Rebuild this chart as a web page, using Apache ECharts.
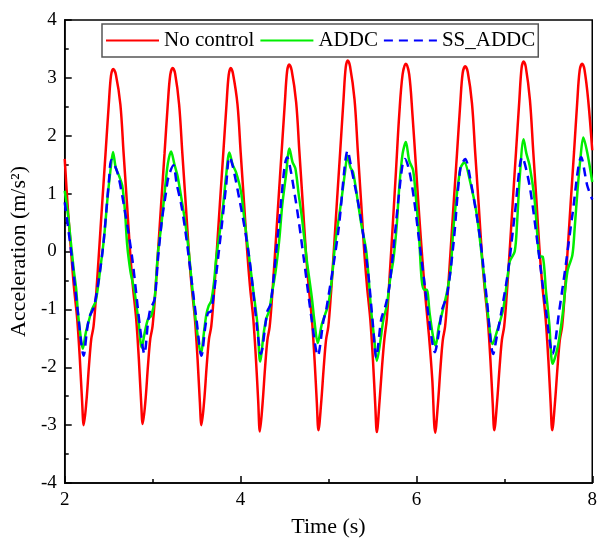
<!DOCTYPE html>
<html>
<head>
<meta charset="utf-8">
<script src="https://cdn.jsdelivr.net/npm/echarts@6/dist/echarts.min.js"></script>
<style>
html,body{margin:0;padding:0;background:#fff;}
#chart{width:600px;height:543px;}
</style>
</head>
<body>
<div id="chart"></div>
<script>
// Tick settings
const xTicks = [2, 4, 6, 8];
const yTicks = [-4, -3, -2, -1, 0, 1, 2, 3, 4];
const seriesNames = ['No control', 'ADDC', 'SS_ADDC'];

// No control (red) [time s, acceleration m/s^2]
const noControl = [
  [2.0,1.6],[2.035,0.75],[2.074,-0.03],[2.104,-0.6],[2.142,-1.17],[2.172,-1.86],[2.198,-2.6],[2.216,-3.0],
  [2.246,-2.6],[2.276,-1.97],[2.302,-1.51],[2.328,-1.29],[2.359,-0.71],[2.389,-0.03],[2.426,0.83],[2.464,1.69],[2.501,2.54],[2.526,3.035],[2.551,3.155],
  [2.582,3.055],[2.633,2.54],[2.670,1.69],[2.708,0.83],[2.745,-0.03],[2.775,-0.6],[2.813,-1.17],[2.843,-1.86],[2.869,-2.6],[2.887,-2.98],
  [2.917,-2.6],[2.947,-1.97],[2.973,-1.51],[2.999,-1.29],[3.030,-0.71],[3.060,-0.03],[3.097,0.83],[3.135,1.69],[3.172,2.54],[3.200,3.05],[3.228,3.17],
  [3.256,3.07],[3.301,2.54],[3.338,1.69],[3.376,0.83],[3.413,-0.03],[3.443,-0.6],[3.481,-1.17],[3.511,-1.86],[3.537,-2.6],[3.555,-3.0],
  [3.585,-2.6],[3.615,-1.97],[3.641,-1.51],[3.667,-1.29],[3.698,-0.71],[3.728,-0.03],[3.765,0.83],[3.803,1.69],[3.840,2.54],[3.865,3.05],[3.889,3.17],
  [3.914,3.07],[3.965,2.54],[4.002,1.69],[4.040,0.83],[4.077,-0.03],[4.107,-0.6],[4.145,-1.17],[4.175,-1.86],[4.201,-2.6],[4.219,-3.11],
  [4.249,-2.65],[4.279,-2.0],[4.305,-1.53],[4.331,-1.3],[4.362,-0.71],[4.392,-0.03],[4.429,0.84],[4.467,1.72],[4.504,2.58],[4.529,3.11],[4.552,3.23],
  [4.581,3.13],[4.632,2.58],[4.669,1.72],[4.707,0.84],[4.744,-0.03],[4.774,-0.6],[4.812,-1.18],[4.842,-1.88],[4.868,-2.63],[4.886,-3.09],
  [4.916,-2.63],[4.946,-2.0],[4.972,-1.53],[4.998,-1.3],[5.029,-0.71],[5.059,-0.03],[5.096,0.86],[5.134,1.75],[5.171,2.63],[5.196,3.18],[5.219,3.30],
  [5.245,3.2],[5.296,2.63],[5.333,1.75],[5.371,0.86],[5.408,-0.03],[5.438,-0.6],[5.476,-1.18],[5.506,-1.88],[5.532,-2.65],[5.550,-3.12],
  [5.580,-2.6],[5.610,-1.97],[5.636,-1.51],[5.663,-1.17],[5.693,-0.49],[5.730,0.43],[5.768,1.4],[5.805,2.37],[5.843,3.06],[5.880,3.245],
  [5.918,3.06],[5.955,2.37],[5.993,1.51],[6.030,0.66],[6.068,-0.14],[6.105,-0.83],[6.143,-1.46],[6.180,-2.2],[6.214,-3.13],
  [6.244,-2.65],[6.274,-2.0],[6.300,-1.53],[6.326,-1.3],[6.357,-0.71],[6.387,-0.03],[6.424,0.84],[6.462,1.7],[6.499,2.56],[6.526,3.08],[6.555,3.20],
  [6.584,3.1],[6.632,2.56],[6.669,1.7],[6.707,0.84],[6.744,-0.03],[6.774,-0.6],[6.812,-1.18],[6.842,-1.88],[6.868,-2.63],[6.886,-3.09],
  [6.916,-2.63],[6.946,-2.0],[6.972,-1.53],[6.998,-1.3],[7.029,-0.71],[7.059,-0.03],[7.096,0.86],[7.134,1.75],[7.171,2.62],[7.196,3.17],[7.219,3.285],
  [7.244,3.19],[7.291,2.62],[7.328,1.75],[7.366,0.86],[7.403,-0.03],[7.433,-0.6],[7.471,-1.18],[7.501,-1.88],[7.527,-2.63],[7.545,-3.09],
  [7.575,-2.63],[7.605,-2.0],[7.631,-1.53],[7.657,-1.3],[7.688,-0.71],[7.718,-0.03],[7.755,0.85],[7.793,1.72],[7.830,2.6],[7.857,3.13],[7.885,3.245],
  [7.912,3.14],[7.955,2.6],[8.0,1.75]
];

// ADDC (green)
const addc = [
  [2.0,1.05],[2.04,0.6],[2.073,0.11],[2.105,-0.35],[2.129,-0.63],[2.149,-1.03],[2.175,-1.4],[2.205,-1.68],[2.24,-1.4],[2.279,-1.17],[2.31,-1.0],[2.354,-0.85],
  [2.41,-0.23],[2.448,0.25],[2.486,0.91],[2.52,1.4],[2.549,1.72],[2.58,1.45],[2.617,1.31],[2.654,1.14],[2.685,0.7],[2.711,0.1],[2.748,-0.35],[2.775,-0.55],
  [2.80,-0.75],[2.842,-1.25],[2.875,-1.66],[2.91,-1.4],[2.947,-1.17],[2.985,-1.11],[3.022,-0.83],[3.06,-0.03],[3.097,0.43],[3.135,1.0],[3.172,1.51],[3.21,1.73],
  [3.247,1.51],[3.285,1.29],[3.33,0.89],[3.367,0.54],[3.405,0.09],[3.442,-0.49],[3.48,-1.06],[3.517,-1.51],[3.547,-1.77],[3.592,-1.29],[3.611,-1.09],[3.637,-0.94],
  [3.667,-0.85],[3.70,-0.5],[3.723,-0.11],[3.76,0.3],[3.798,0.74],[3.835,1.3],[3.873,1.71],[3.91,1.5],[3.948,1.37],[4.005,1.03],[4.04,0.6],[4.08,0.11],
  [4.136,-0.57],[4.192,-1.26],[4.222,-1.9],[4.267,-1.37],[4.295,-1.15],[4.324,-1.03],[4.36,-0.7],[4.399,-0.34],[4.44,0.2],[4.474,0.8],[4.515,1.3],[4.556,1.78],
  [4.59,1.55],[4.624,1.43],[4.66,1.0],[4.699,0.57],[4.755,-0.17],[4.811,-0.8],[4.84,-1.2],[4.878,-1.58],[4.924,-1.26],[4.961,-1.09],[4.999,-0.91],[5.04,-0.45],
  [5.074,0.11],[5.11,0.5],[5.149,0.91],[5.19,1.4],[5.216,1.66],[5.25,1.45],[5.28,1.37],[5.33,0.9],[5.374,0.46],[5.43,0.0],[5.486,-1.03],[5.52,-1.5],
  [5.55,-1.89],[5.588,-1.57],[5.625,-1.17],[5.663,-0.94],[5.70,-0.49],[5.738,-0.14],[5.775,0.43],[5.805,1.11],[5.843,1.69],[5.88,1.89],[5.918,1.57],[5.963,1.4],
  [6.0,0.83],[6.03,0.26],[6.06,-0.49],[6.087,-0.66],[6.117,-0.66],[6.15,-1.06],[6.188,-1.46],[6.218,-1.63],[6.255,-1.29],[6.293,-1.06],[6.349,-0.69],[6.39,-0.3],
  [6.424,0.46],[6.499,1.43],[6.544,1.54],[6.612,1.2],[6.687,0.63],[6.762,-0.34],[6.818,-1.14],[6.867,-1.6],[6.912,-1.4],[6.987,-1.0],[7.04,-0.4],[7.062,-0.17],
  [7.118,0.0],[7.145,0.5],[7.174,1.26],[7.219,1.94],[7.25,1.7],[7.287,1.49],[7.343,0.91],[7.38,0.2],[7.40,-0.08],[7.437,-0.09],[7.474,-0.69],[7.512,-1.26],
  [7.549,-1.94],[7.606,-1.66],[7.662,-1.1],[7.718,-0.34],[7.774,-0.06],[7.80,0.4],[7.831,1.03],[7.865,1.6],[7.898,1.97],[7.943,1.71],[8.0,1.2]
];

// SS_ADDC (blue dashed)
const ssAddc = [
  [2.0,0.85],[2.073,0.0],[2.148,-1.03],[2.216,-1.8],[2.25,-1.4],[2.279,-1.14],[2.336,-0.94],[2.43,0.0],[2.505,1.26],[2.531,1.58],[2.598,1.37],[2.673,0.8],
  [2.767,-0.11],[2.861,-1.37],[2.906,-1.77],[2.947,-1.23],[2.973,-1.0],[3.022,-0.83],[3.06,-0.14],[3.105,0.54],[3.15,1.0],[3.18,1.29],[3.236,1.49],[3.273,1.17],
  [3.33,0.77],[3.386,0.2],[3.442,-0.49],[3.498,-1.17],[3.555,-1.8],[3.6,-1.29],[3.63,-1.06],[3.667,-1.03],[3.761,0.11],[3.836,1.14],[3.873,1.63],[3.986,0.91],
  [4.099,-0.11],[4.192,-1.37],[4.23,-1.77],[4.305,-1.03],[4.342,-0.91],[4.436,0.46],[4.53,1.63],[4.624,0.91],[4.718,-0.11],[4.811,-1.2],[4.879,-1.8],[4.942,-1.2],
  [4.975,-1.0],[5.111,0.34],[5.186,1.49],[5.216,1.74],[5.261,1.43],[5.355,0.69],[5.449,-0.34],[5.505,-1.26],[5.543,-1.83],[5.6,-1.17],[5.648,-0.94],[5.693,-0.6],
  [5.749,0.2],[5.798,0.94],[5.843,1.51],[5.869,1.6],[5.918,1.4],[5.974,0.89],[6.03,0.2],[6.087,-0.49],[6.143,-1.17],[6.21,-1.74],[6.255,-1.4],[6.293,-1.0],
  [6.349,-0.75],[6.424,0.17],[6.499,1.43],[6.555,1.6],[6.612,1.26],[6.724,0.23],[6.799,-0.8],[6.874,-1.77],[6.912,-1.49],[6.968,-1.03],[7.043,-0.34],[7.118,0.63],
  [7.204,1.63],[7.287,1.14],[7.38,0.11],[7.474,-1.03],[7.549,-1.77],[7.624,-1.03],[7.699,-0.23],[7.774,0.63],[7.875,1.63],[7.943,1.14],[8.0,0.9]
];

const FONT = 'Liberation Serif';
const chart = echarts.init(document.getElementById('chart'), null, {renderer: 'canvas'});
chart.setOption({
  animation: false,
  backgroundColor: '#fff',
  grid: {left: 63.5, right: 3, top: 20, bottom: 56, show: true, borderColor: '#000', borderWidth: 1.5, backgroundColor: 'transparent'},
  legend: {
    left: 102, top: 24,
    orient: 'horizontal',
    itemWidth: 53, itemHeight: 14, itemGap: 5,
    padding: [6, 3, 6, 3],
    borderColor: '#555', borderWidth: 1.5,
    itemStyle: {opacity: 0},
    textStyle: {fontFamily: FONT, fontSize: 21, color: '#000'},
    data: seriesNames.map(n => ({name: n}))
  },
  xAxis: {
    type: 'value', min: xTicks[0], max: xTicks[xTicks.length - 1], interval: 2,
    name: 'Time (s)', nameLocation: 'middle', nameGap: 33,
    nameTextStyle: {fontFamily: FONT, fontSize: 22, color: '#000'},
    axisLine: {show: true, onZero: false, lineStyle: {color: '#000', width: 1.5}},
    axisTick: {show: true, inside: true, length: 7, lineStyle: {color: '#000', width: 1.5}},
    minorTick: {show: true, splitNumber: 2, length: 4, lineStyle: {color: '#000', width: 1.5}},
    axisLabel: {fontFamily: FONT, fontSize: 19, color: '#000', margin: 8},
    splitLine: {show: false}
  },
  yAxis: {
    type: 'value', min: yTicks[0], max: yTicks[yTicks.length - 1], interval: 1,
    name: 'Acceleration (m/s²)', nameLocation: 'middle', nameGap: 33,
    nameTextStyle: {fontFamily: FONT, fontSize: 22, color: '#000'},
    axisLine: {show: true, onZero: false, lineStyle: {color: '#000', width: 1.5}},
    axisTick: {show: true, inside: true, length: 7, lineStyle: {color: '#000', width: 1.5}},
    minorTick: {show: true, splitNumber: 2, length: 4, lineStyle: {color: '#000', width: 1.5}},
    axisLabel: {fontFamily: FONT, fontSize: 19, color: '#000', margin: 8},
    splitLine: {show: false}
  },
  series: [
    {name: seriesNames[0], type: 'line', data: noControl, symbol: 'none', smooth: 0.35,
     lineStyle: {color: '#ff0000', width: 2.5}, itemStyle: {color: '#ff0000'}},
    {name: seriesNames[1], type: 'line', data: addc, symbol: 'none', smooth: 0.3,
     lineStyle: {color: '#00ee00', width: 2.5}, itemStyle: {color: '#00ee00'}},
    {name: seriesNames[2], type: 'line', data: ssAddc, symbol: 'none', smooth: 0.3,
     lineStyle: {color: '#0000ff', width: 2.5, type: [9, 6]}, itemStyle: {color: '#0000ff'}}
  ]
});
</script>
</body>
</html>
